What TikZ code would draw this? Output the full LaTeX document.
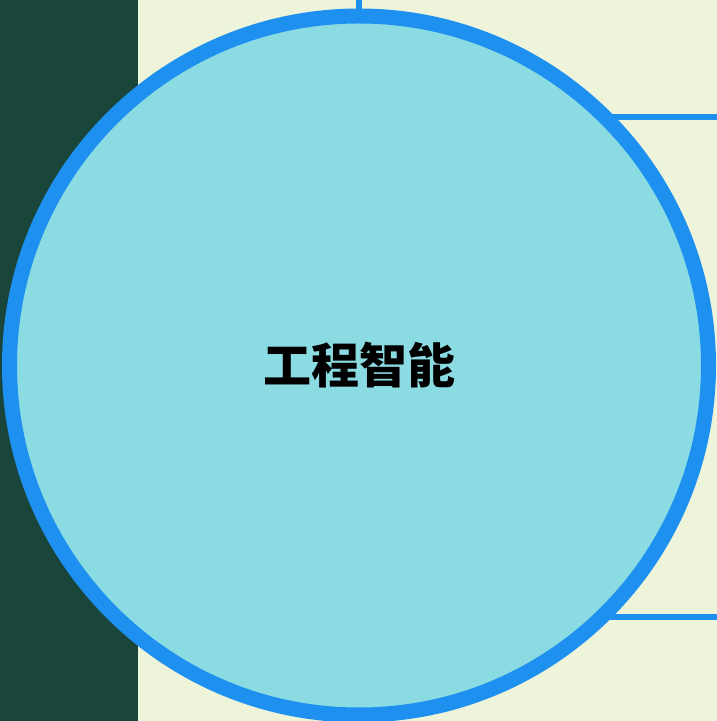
\documentclass[tikz,border=0pt]{standalone}
\usepackage{fontspec}
\newfontfamily\cjk{Noto Sans CJK SC}
\usetikzlibrary{backgrounds}

\definecolor{creamBg}{HTML}{EEF4DA}
\definecolor{darkStrip}{HTML}{19453B}
\definecolor{ringBlue}{HTML}{1E90F0}
\definecolor{discFill}{HTML}{8ADBE2}

\begin{document}
\begin{tikzpicture}[x=1pt, y=1pt]
\tikzset{ link/.style={draw=ringBlue, line width=6pt}, }

\useasboundingbox (0,0) rectangle (717,721);

\node [circle, draw=ringBlue, fill=discFill, line width=15pt, inner sep=0pt,
       minimum size=699pt, font=\cjk\bfseries\fontsize{48}{50}\selectfont] (C) at (359,355.5) {工程智能};

\coordinate (T)  at (359,721);
\coordinate (R1) at (717,604);
\coordinate (R2) at (717,103.5);

\begin{pgfonlayer}{background}
\fill [creamBg] (0,0) rectangle (717,721);
\fill [darkStrip] (0,0) rectangle (138,721);
\draw [link] (T)  -- (C.center);
\draw [link] (R1) -- (R1 -| C.center);
\draw [link] (R2) -- (R2 -| C.center);
\end{pgfonlayer}

\end{tikzpicture}
\end{document}
